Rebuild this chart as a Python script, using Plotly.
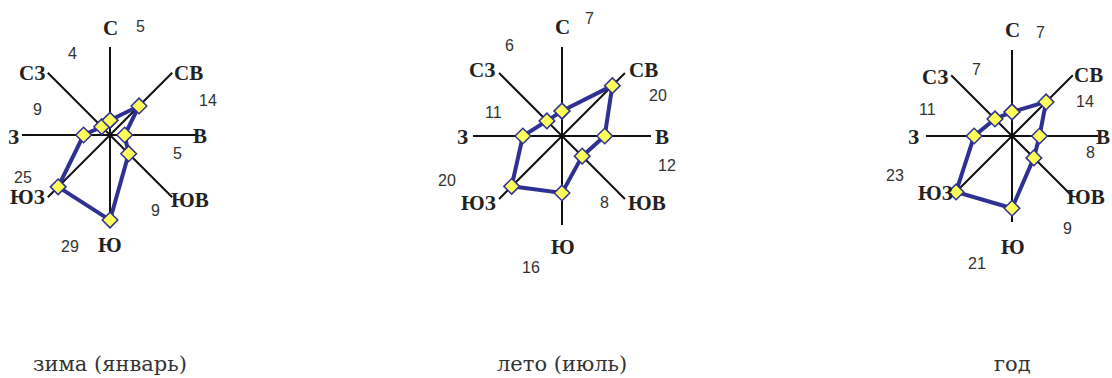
import plotly.graph_objects as go

# направления ветра (по часовой стрелке от севера)
direcciones = ["С", "СВ", "В", "ЮВ", "Ю", "ЮЗ", "З", "СЗ"]
angulos = [0, 45, 90, 135, 180, 225, 270, 315]

# повторяемость ветра, %
invierno = [5, 14, 5, 9, 29, 25, 9, 4]
verano = [7, 20, 12, 8, 16, 20, 11, 6]
anual = [7, 14, 8, 9, 21, 23, 11, 7]

titulos = ["зима (январь)", "лето (июль)", "год"]

W, H = 1112, 378

# centro (px), radio (px), rango radial;
# desplazamientos (dx, dy en px desde el centro) de los nombres y de los valores
paneles = [
    dict(cx=110, cy=135, R=88, rmax=30,
         nombres=[(0, -107), (78, -62), (90, 1), (80, 65),
                  (0, 110), (-83, 62), (-97, 2), (-78, -62)],
         valores=[(30, -108), (98, -35), (67, 18), (45, 75),
                  (-40, 111), (-87, 42), (-73, -25), (-38, -81)]),
    dict(cx=562, cy=136, R=89, rmax=25,
         nombres=[(0, -109), (81, -66), (100, 1), (85, 67),
                  (1, 111), (-84, 67), (-100, 1), (-80, -66)],
         valores=[(27, -118), (96, -41), (105, 29), (43, 66),
                  (-31, 131), (-115, 44), (-69, -24), (-53, -91)]),
    dict(cx=1012, cy=136, R=86, rmax=25,
         nombres=[(0, -106), (76, -61), (91, 1), (74, 61),
                  (1, 111), (-77, 57), (-99, 1), (-77, -59)],
         valores=[(28, -104), (73, -35), (78, 16), (55, 92),
                  (-35, 127), (-117, 39), (-85, -26), (-36, -66)]),
]

series = [invierno, verano, anual]


def px_x(x):
    return x / W


def px_y(y):
    return 1 - y / H


fig = go.Figure()
layout = {}
anotaciones = []

for i, (p, valores) in enumerate(zip(paneles, series)):
    sub = "polar" if i == 0 else f"polar{i + 1}"

    # poligono de la rosa de vientos
    fig.add_trace(go.Scatterpolar(
        r=valores + valores[:1],
        theta=angulos + angulos[:1],
        mode="lines+markers",
        line=dict(color="#2e3192", width=4),
        marker=dict(symbol="diamond", size=12, color="#ffff5c",
                    line=dict(color="#2e3192", width=1.5)),
        subplot=sub,
        showlegend=False,
        hoverinfo="skip",
    ))

    layout[sub] = dict(
        domain=dict(
            x=[px_x(p["cx"] - p["R"]), px_x(p["cx"] + p["R"])],
            y=[px_y(p["cy"] + p["R"]), px_y(p["cy"] - p["R"])],
        ),
        bgcolor="white",
        radialaxis=dict(visible=False, range=[0, p["rmax"]], showgrid=False),
        angularaxis=dict(
            thetaunit="degrees",
            direction="clockwise",
            rotation=90,
            tickmode="array",
            tickvals=angulos,
            showticklabels=False,
            showline=False,
            showgrid=True,
            gridcolor="#111111",
            gridwidth=2,
            ticks="",
        ),
    )

    # nombres de las direcciones
    for (dx, dy), d in zip(p["nombres"], direcciones):
        anotaciones.append(dict(
            x=px_x(p["cx"] + dx), y=px_y(p["cy"] + dy),
            xref="paper", yref="paper", xanchor="center", yanchor="middle",
            text=d, showarrow=False,
            font=dict(family="Liberation Serif, Times New Roman", size=21,
                      color="#222222", weight="bold"),
        ))

    # valores numericos junto a cada direccion
    for (dx, dy), v in zip(p["valores"], valores):
        anotaciones.append(dict(
            x=px_x(p["cx"] + dx), y=px_y(p["cy"] + dy),
            xref="paper", yref="paper", xanchor="center", yanchor="middle",
            text=str(v), showarrow=False,
            font=dict(family="Liberation Sans, Arial", size=16, color="#333333"),
        ))

    anotaciones.append(dict(
        x=px_x(p["cx"]), y=px_y(364), xref="paper", yref="paper",
        xanchor="center", yanchor="middle",
        text=titulos[i], showarrow=False,
        font=dict(family="DejaVu Serif", size=21, color="#333333"),
    ))

fig.update_layout(
    width=W, height=H,
    margin=dict(l=0, r=0, t=0, b=0),
    paper_bgcolor="white",
    plot_bgcolor="white",
    annotations=anotaciones,
    **layout,
)

# sin el margen de 8px del body para que la figura ocupe toda la ventana
fig.write_html("out.html", config={"displayModeBar": False},
               post_script="document.body.style.margin='0';")
